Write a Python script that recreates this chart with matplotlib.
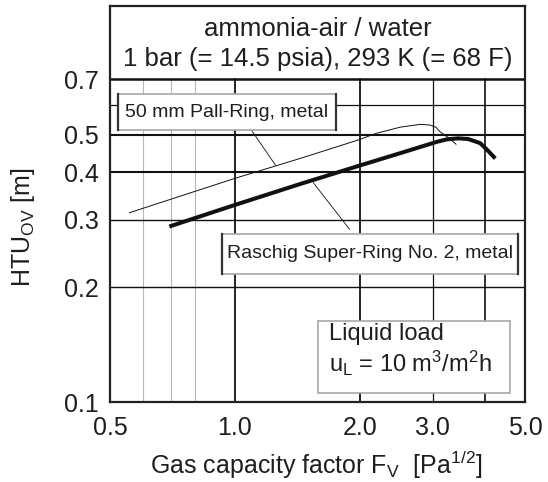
import numpy as np
import matplotlib
matplotlib.use("Agg")
import matplotlib.pyplot as plt
from matplotlib.patches import Rectangle
from matplotlib.lines import Line2D

plt.rcParams['font.family'] = ['Liberation Sans', 'DejaVu Sans']
plt.rcParams['mathtext.fontset'] = 'custom'
plt.rcParams['mathtext.rm'] = 'Liberation Sans'
plt.rcParams['mathtext.it'] = 'Liberation Sans'

# data
pall_x = [0.557, 1.0, 1.435, 1.98, 2.19, 2.5, 2.79, 2.95, 3.05, 3.12, 3.27, 3.41]
pall_y = [0.313, 0.385, 0.434, 0.485, 0.505, 0.524, 0.533, 0.531, 0.524, 0.510, 0.492, 0.473]
rsr_x = [0.695, 1.0, 1.435, 2.0, 2.5, 3.07, 3.24, 3.45, 3.65, 3.9, 4.07, 4.24]
rsr_y = [0.288, 0.328, 0.372, 0.416, 0.448, 0.480, 0.487, 0.490, 0.488, 0.476, 0.455, 0.434]

xticks = [0.5, 1.0, 2.0, 3.0, 5.0]
xtick_labels = ["0.5", "1.0", "2.0", "3.0", "5.0"]
yticks = [0.1, 0.2, 0.3, 0.4, 0.5, 0.7]
ytick_labels = ["0.1", "0.2", "0.3", "0.4", "0.5", "0.7"]

vgrid_black = [1.0, 2.0, 3.0, 4.0]
vgrid_black_lw = [1.3, 1.3, 0.9, 1.2]
vgrid_gray = [0.6, 0.7, 0.8]
hgrid = [0.2, 0.3, 0.4, 0.5, 0.6]
hgrid_lw = [1.0, 1.0, 1.5, 1.5, 0.9]
y_top_grid = 0.7

W, H = 548, 482
TXT = '#1e1e1e'


def fx(px):
    return px / W


def fy(py):
    return 1 - py / H


fig = plt.figure(figsize=(W / 100, H / 100), dpi=100)
ax = fig.add_axes([fx(110), fy(402), (525 - 110) / W, (402 - 6) / H])
ax.set_xscale('log')
ax.set_yscale('log')
ax.set_xlim(0.5, 5.0)
ax.set_ylim(0.1, 0.1 * 10 ** (396 / 382))

for x in vgrid_gray:
    ax.plot([x, x], [0.1, y_top_grid], color='#b8b8b8', lw=0.8, zorder=1)
for x, lw in zip(vgrid_black, vgrid_black_lw):
    ax.plot([x, x], [0.1, y_top_grid], color='#111111', lw=lw, zorder=1)
for y, lw in zip(hgrid, hgrid_lw):
    ax.axhline(y, color='#111111', lw=lw, zorder=1)
ax.axhline(y_top_grid, color='#111111', lw=1.8, zorder=3)

ax.plot(pall_x, pall_y, color='#111111', lw=0.7, zorder=4)
ax.plot(rsr_x, rsr_y, color='#111111', lw=2.9, zorder=4, solid_capstyle='butt')

# leader lines
ax.plot([1.067, 1.254], [0.537, 0.416], color='#111111', lw=0.6, zorder=4)
ax.plot([1.545, 1.89], [0.375, 0.283], color='#111111', lw=0.6, zorder=4)

ax.set_xticks(xticks)
ax.set_xticklabels(xtick_labels)
ax.set_yticks(yticks)
ax.set_yticklabels(ytick_labels)
ax.xaxis.set_minor_locator(matplotlib.ticker.NullLocator())
ax.yaxis.set_minor_locator(matplotlib.ticker.NullLocator())
ax.tick_params(axis='both', length=0, labelsize=18, colors=TXT)
ax.tick_params(axis='y', pad=8)
ax.tick_params(axis='x', pad=10)
for s in ax.spines.values():
    s.set_linewidth(1.6)
    s.set_color('#222222')
    s.set_zorder(6)

# title inside the frame
xc = np.sqrt(0.5 * 5.0)
ax.text(xc, 0.1 * 10 ** ((402 - 29) / 382), "ammonia-air / water",
        ha='center', va='center', fontsize=18.5, color=TXT)
ax.text(xc, 0.1 * 10 ** ((402 - 59) / 382), "1 bar (= 14.5 psia), 293 K (= 68 F)",
        ha='center', va='center', fontsize=18.5, color=TXT)


def label_box(x0, y0, x1, y1, side_color):
    r = Rectangle((fx(x0), fy(y1)), fx(x1) - fx(x0), fy(y0) - fy(y1),
                  transform=fig.transFigure, facecolor='white',
                  edgecolor='#a8a8a8', lw=1.2, zorder=7)
    fig.patches.append(r)
    if side_color:
        for xx in (x0, x1):
            fig.lines.append(Line2D([fx(xx), fx(xx)], [fy(y0), fy(y1)],
                                    transform=fig.transFigure,
                                    color=side_color, lw=1.6, zorder=8))


label_box(117.5, 93.7, 336, 130.5, '#333333')
fig.text(fx(227), fy(112), "50 mm Pall-Ring, metal", ha='center', va='center',
         fontsize=14, color=TXT, zorder=9)

label_box(222, 234, 518, 273.5, '#333333')
fig.text(fx(370), fy(254), "Raschig Super-Ring No. 2, metal", ha='center',
         va='center', fontsize=14, color=TXT, zorder=9)

label_box(318, 321, 509.5, 392.6, None)
fig.text(fx(329), fy(334), "Liquid load", ha='left', va='center',
         fontsize=17, color=TXT, zorder=9)
fig.text(fx(329), fy(372), r"u$_\mathregular{L}$ = 10 m$^\mathregular{3}$/m$^\mathregular{2}$h",
         ha='left', va='baseline', fontsize=17, color=TXT, zorder=9)

fig.text(fx(23), fy(227), r"HTU$_\mathregular{OV}$ [m]", rotation=90,
         ha='center', va='center', fontsize=18, color=TXT)
fig.text(fx(316), fy(474), r"Gas capacity factor F$_\mathregular{V}$  [Pa$^\mathregular{1/2}$]",
         ha='center', va='baseline', fontsize=18, color=TXT)

fig.savefig("out.png", dpi=100)
